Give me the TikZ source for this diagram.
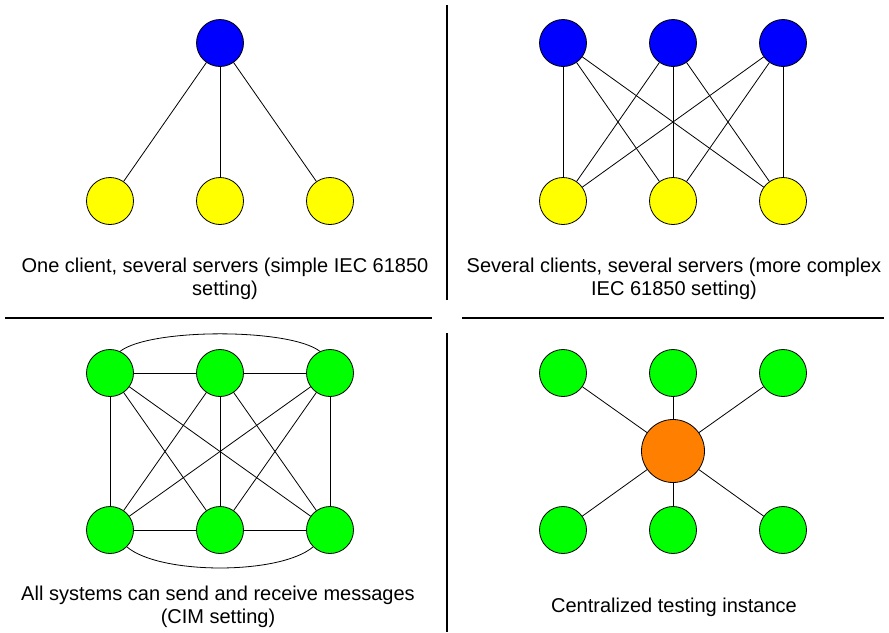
\documentclass[tikz,border=0pt]{standalone}
\usepackage{fontspec}
\setmainfont{Liberation Sans}
\begin{document}
\begin{tikzpicture}[x=1pt,y=-1pt,
  nd/.style={circle,draw=black,line width=0.8pt,minimum size=47pt,inner sep=0pt},
  blue/.style={nd,fill={rgb,255:red,0;green,0;blue,255}},
  yel/.style={nd,fill={rgb,255:red,255;green,255;blue,0}},
  grn/.style={nd,fill={rgb,255:red,0;green,255;blue,0}},
  org/.style={circle,draw=black,line width=0.8pt,minimum size=63pt,inner sep=0pt,fill={rgb,255:red,255;green,128;blue,0}},
  edge/.style={draw=black,line width=0.8pt},
  sep/.style={draw=black,line width=2pt},
  lbl/.style={align=center,font=\fontsize{20}{23}\selectfont}]
\useasboundingbox (0,0) rectangle (889,632);
% separators
\coordinate (v1) at (447,5); \coordinate (v2) at (447,300);
\coordinate (v3) at (447,333); \coordinate (v4) at (447,632);
\coordinate (h1) at (5,318); \coordinate (h2) at (432,318);
\coordinate (h3) at (462,318); \coordinate (h4) at (884,318);
\draw[sep] (v1) -- (v2); \draw[sep] (v3) -- (v4);
\draw[sep] (h1) -- (h2); \draw[sep] (h3) -- (h4);
% panel 1
\node[blue] (a0) at (220,43) {};
\node[yel] (a1) at (110,201) {};
\node[yel] (a2) at (220,201) {};
\node[yel] (a3) at (330,201) {};
\foreach \i in {1,2,3} \draw[edge] (a0) -- (a\i);
\node[lbl] (t1) at (225,279) {One client, several servers (simple IEC 61850\\setting)};
% panel 2
\node[blue] (b1) at (563,43) {};
\node[blue] (b2) at (673,43) {};
\node[blue] (b3) at (783,43) {};
\node[yel] (c1) at (563,201) {};
\node[yel] (c2) at (673,201) {};
\node[yel] (c3) at (783,201) {};
\foreach \i in {1,2,3} \foreach \j in {1,2,3} \draw[edge] (b\i) -- (c\j);
\node[lbl] (t2) at (674,279) {Several clients, several servers (more complex\\IEC 61850 setting)};
% panel 3
\node[grn] (d1) at (110,373) {};
\node[grn] (d2) at (220,373) {};
\node[grn] (d3) at (330,373) {};
\node[grn] (e1) at (110,530) {};
\node[grn] (e2) at (220,530) {};
\node[grn] (e3) at (330,530) {};
\draw[edge] (d1) -- (d2); \draw[edge] (d2) -- (d3);
\draw[edge] (e1) -- (e2); \draw[edge] (e2) -- (e3);
\foreach \i in {1,2,3} \foreach \j in {1,2,3} \draw[edge] (d\i) -- (e\j);
\draw[edge] (d1.65) .. controls (150,328) and (290,328) .. (d3.115);
\draw[edge] (e1.-45) .. controls (160,575) and (280,575) .. (e3.-135);
\node[lbl] (t3) at (218,607) {All systems can send and receive messages\\(CIM setting)};
% panel 4
\node[org] (o) at (673,451) {};
\node[grn] (f1) at (563,373) {};
\node[grn] (f2) at (673,373) {};
\node[grn] (f3) at (783,373) {};
\node[grn] (g1) at (563,530) {};
\node[grn] (g2) at (673,530) {};
\node[grn] (g3) at (783,530) {};
\foreach \i in {1,2,3} {\draw[edge] (o) -- (f\i); \draw[edge] (o) -- (g\i);}
\node[lbl] (t4) at (674,607) {Centralized testing instance};
\end{tikzpicture}
\end{document}
